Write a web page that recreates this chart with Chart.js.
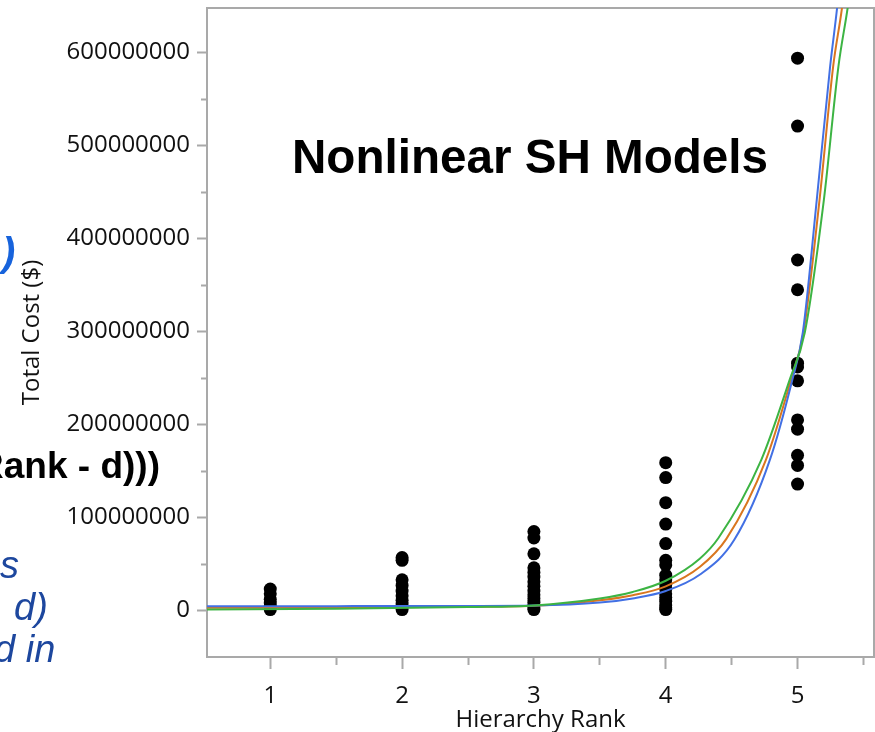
<!DOCTYPE html>
<html>
<head>
<meta charset="utf-8">
<script src="https://cdn.jsdelivr.net/npm/chart.js@4/dist/chart.umd.min.js"></script>
<style>
  body { margin: 0; background: #fff; overflow: hidden; }
  #wrap { position: relative; width: 875px; height: 732px; overflow: hidden; }
  #chart { position: absolute; left: 0; top: 0; }
  .txt { position: absolute; white-space: nowrap; line-height: 1; font-family: "Liberation Sans", Arial, sans-serif; }
  #title { left: 292px; top: 133px; font-size: 47.6px; font-weight: bold; color: #000; }
  #formula { right: 715px; top: 447px; font-size: 37px; font-weight: bold; color: #000; }
  #paren { left: 2px; top: 232px; font-size: 40px; font-weight: bold; font-style: italic; color: #1763dc; }
  .note { font-size: 38px; font-style: italic; color: #1d479e; }
</style>
</head>
<body>
<div id="wrap">
  <canvas id="chart" width="875" height="732"></canvas>
  <div class="txt" id="title">Nonlinear SH Models</div>
  <div class="txt" id="formula">Rank - d)))</div>
  <div class="txt" id="paren">)</div>
  <div class="txt note" style="left:0px; top:546px;">s</div>
  <div class="txt note" style="left:14px; top:588px;">d)</div>
  <div class="txt note" style="left:-6px; top:630px;">d in</div>
</div>
<script>
// observed total cost per hierarchy rank, millions of $
const rank1Cost = [23, 18, 12, 8, 5, 3, 1];
const rank2Cost = [57, 54, 33, 27, 21, 16, 11, 7, 4, 1];
const rank3Cost = [85, 78, 61, 46, 41, 36, 31, 26, 21, 17, 13, 9, 6, 3, 1];
const rank4Cost = [159, 143, 116, 93, 72, 54, 49, 38, 33, 28, 23, 18, 14, 10, 6, 3, 1];
const rank5Cost = [594, 521, 377, 345, 266, 262, 247, 205, 195, 167, 156, 136];
const ranks = [1, 2, 3, 4, 5];

// fitted model curves (rank, millions of $)
const blueRank = [0.52, 1.5, 2.5, 3.0, 3.5, 3.75, 4.0, 4.26, 4.52, 4.79, 4.96, 5.04, 5.146, 5.247, 5.30, 5.35];
const blueCost = [4.6, 4.7, 4.9, 5.3, 8.5, 13, 21, 38.7, 76, 162, 248, 299, 442, 585, 648, 720];
const orangeRank = [0.52, 1.5, 2.5, 3.0, 3.5, 3.75, 4.0, 4.26, 4.46, 4.76, 4.95, 5.045, 5.167, 5.27, 5.337, 5.38];
const orangeCost = [2.9, 3.2, 4.0, 5.0, 11, 16.5, 26, 47, 77, 162, 248, 299, 442, 585, 648, 700];
const greenRank = [0.52, 1.5, 2.5, 3.0, 3.5, 3.75, 4.0, 4.26, 4.40, 4.725, 4.94, 5.055, 5.2, 5.31, 5.38, 5.43];
const greenCost = [1.0, 1.8, 3.8, 5.5, 13, 20, 32, 56, 78, 162, 248, 299, 442, 585, 648, 700];

// ticks (majors get labels, the rest are minor)
const xTickValues = [1, 1.5, 2, 2.5, 3, 3.5, 4, 4.5, 5, 5.5];
const xTickLabels = ['1', '', '2', '', '3', '', '4', '', '5', ''];
const yTickValues = [0, 50, 100, 150, 200, 250, 300, 350, 400, 450, 500, 550, 600];
const yTickLabels = ['0', '', '100000000', '', '200000000', '', '300000000', '', '400000000', '', '500000000', '', '600000000'];

const M = 1e6;
const axisGray = '#a9a9a9';
const font = '"Open Sans", "Noto Sans", sans-serif';

const costLists = [rank1Cost, rank2Cost, rank3Cost, rank4Cost, rank5Cost];
const points = [];
costLists.forEach((list, i) => {
  list.forEach(v => points.push({ x: ranks[i], y: v * M }));
});

function curve(xs, ys) {
  return xs.map((x, i) => ({ x: x, y: ys[i] * M }));
}

function lineSet(data, color) {
  return {
    data: data,
    showLine: true,
    borderColor: color,
    borderWidth: 2,
    pointRadius: 0,
    cubicInterpolationMode: 'monotone',
    order: 1
  };
}

const framePlugin = {
  id: 'frame',
  beforeDatasetsDraw(chart) {
    const { ctx, chartArea: a } = chart;
    ctx.save();
    ctx.strokeStyle = axisGray;
    ctx.lineWidth = 2;
    ctx.beginPath();
    ctx.moveTo(a.left, a.top);
    ctx.lineTo(a.right, a.top);
    ctx.lineTo(a.right, a.bottom);
    ctx.stroke();
    ctx.restore();
  }
};

new Chart(document.getElementById('chart'), {
  type: 'scatter',
  data: {
    datasets: [
      {
        data: points,
        backgroundColor: '#000',
        borderWidth: 0,
        pointRadius: 6.5,
        order: 2
      },
      lineSet(curve(greenRank, greenCost), '#3cb443'),
      lineSet(curve(blueRank, blueCost), '#4270e4'),
      lineSet(curve(orangeRank, orangeCost), '#d9761f')
    ]
  },
  options: {
    responsive: false,
    animation: false,
    devicePixelRatio: 1,
    layout: { autoPadding: false, padding: { top: 8, right: 1, left: 0, bottom: 0 } },
    plugins: { legend: { display: false }, tooltip: { enabled: false } },
    scales: {
      x: {
        type: 'linear',
        min: 0.52,
        max: 5.58,
        afterBuildTicks: (scale) => { scale.ticks = xTickValues.map(v => ({ value: v })); },
        afterFit: (scale) => { scale.height = 75; scale.paddingLeft = 0; scale.paddingRight = 0; },
        border: { color: axisGray, width: 2 },
        grid: {
          drawOnChartArea: false,
          tickLength: 12,
          tickWidth: 2,
          tickColor: axisGray,
          tickBorderDash: (ctx) => (ctx.index % 2 === 1 ? [7, 100] : [])
        },
        ticks: {
          padding: 13,
          color: '#111',
          font: { family: font, size: 24 },
          callback: (v, i) => xTickLabels[i]
        },
        title: {
          display: true,
          text: 'Hierarchy Rank',
          color: '#111',
          font: { family: font, size: 24 },
          padding: { top: 0, bottom: -3 }
        }
      },
      y: {
        type: 'linear',
        min: -50 * M,
        max: 648 * M,
        afterBuildTicks: (scale) => { scale.ticks = yTickValues.map(v => ({ value: v * M })); },
        afterFit: (scale) => { scale.width = 207; scale.paddingTop = 0; scale.paddingBottom = 0; },
        border: { color: axisGray, width: 2 },
        grid: {
          drawOnChartArea: false,
          tickLength: 10,
          tickWidth: 2,
          tickColor: axisGray,
          tickBorderDash: (ctx) => (ctx.index % 2 === 1 ? [5, 100] : []),
          tickBorderDashOffset: (ctx) => (ctx.index % 2 === 1 ? 101 : 0)
        },
        ticks: {
          padding: 7,
          color: '#111',
          font: { family: font, size: 24 },
          callback: (v, i) => yTickLabels[i]
        },
        title: {
          display: true,
          text: 'Total Cost ($)',
          color: '#111',
          font: { family: font, size: 24 },
          padding: { top: 18, bottom: 0 }
        }
      }
    }
  },
  plugins: [framePlugin]
});
</script>
</body>
</html>
